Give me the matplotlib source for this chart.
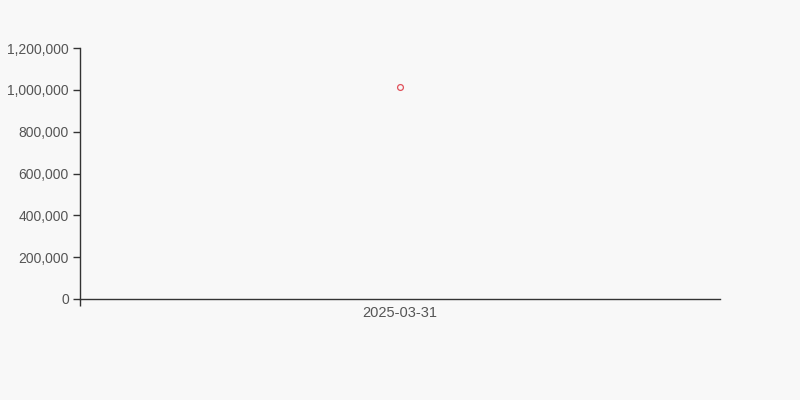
import matplotlib.pyplot as plt
from matplotlib.ticker import FuncFormatter

plt.rcParams['font.family'] = ['Liberation Sans', 'DejaVu Sans']

dates = ['2025-03-31']
values = [1015500]
y_ticks = [0, 200000, 400000, 600000, 800000, 1000000, 1200000]

fig = plt.figure(figsize=(8, 4), dpi=100)
fig.patch.set_facecolor('#f8f8f8')
ax = fig.add_axes([0.1, 0.2525, 0.8, 0.6275])
ax.set_facecolor('#f8f8f8')

x = list(range(len(dates)))
ax.plot(x, values, linestyle='none', marker='o', markersize=4.2,
        markerfacecolor='none', markeredgecolor='#e0505a', markeredgewidth=0.9)

ax.set_xlim(-0.5, len(dates) - 0.5)
ax.set_ylim(0, 1200000)
ax.set_yticks(y_ticks)
ax.yaxis.set_major_formatter(FuncFormatter(lambda v, p: f'{int(v):,}'))
ax.set_xticks(x)
ax.set_xticklabels(dates)
ax.set_xticks([-0.5], minor=True)

for s in ['top', 'right']:
    ax.spines[s].set_visible(False)
for s in ['left', 'bottom']:
    ax.spines[s].set_color('#333333')
    ax.spines[s].set_linewidth(1)

ax.tick_params(axis='y', length=5, width=1, color='#333333', labelsize=10,
               labelcolor='#555555', pad=3)
ax.tick_params(axis='x', which='major', length=0, labelsize=10.5,
               labelcolor='#555555', pad=5)
ax.tick_params(axis='x', which='minor', length=5, width=1, color='#333333')

fig.savefig('out.png', dpi=100, facecolor=fig.get_facecolor())
